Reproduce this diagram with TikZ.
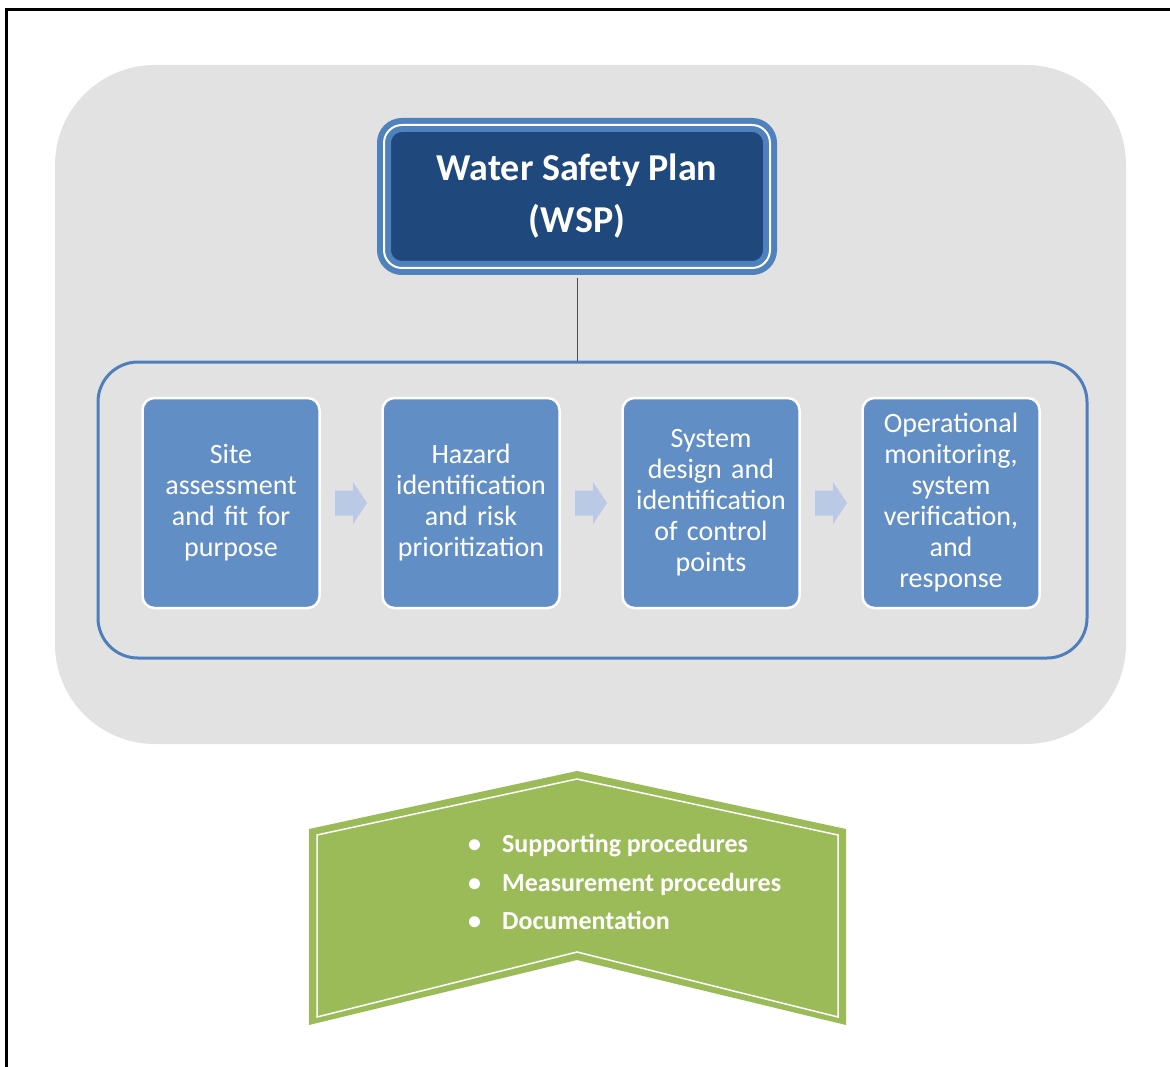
\documentclass[tikz,border=0pt]{standalone}
\usepackage{fontspec}
\setmainfont{Carlito}
\usepackage{tikz}
\usetikzlibrary{positioning, calc}

\definecolor{panelgray}{RGB}{226,226,226}
\definecolor{ringblue}{RGB}{79,129,189}
\definecolor{wspdark}{RGB}{31,73,125}
\definecolor{stepblue}{RGB}{98,142,198}
\definecolor{arrowblue}{RGB}{186,202,228}
\definecolor{groupblue}{RGB}{79,126,188}
\definecolor{leafgreen}{RGB}{155,187,89}

\tikzset{
  stepbox/.style={draw=white, line width=2.5pt, fill=stepblue, rounded corners=12pt,
    minimum width=177pt, minimum height=210pt, inner sep=4pt, outer sep=0pt, text width=166pt,
    align=center, text=white, font=\fontsize{28}{31}\selectfont},
  wspbox/.style={draw=ringblue, line width=6pt, double=white, double distance=2pt,
    fill=wspdark, rounded corners=18pt, minimum width=386pt, minimum height=143pt,
    align=center, text=white, font=\bfseries\fontsize{38}{52}\selectfont},
  groupbox/.style={draw=groupblue, line width=3pt, rounded corners=40pt,
    minimum width=989pt, minimum height=296pt},
  listtext/.style={anchor=west, inner sep=0pt, align=left, text=white,
    font=\bfseries\fontsize{26}{38.5}\selectfont}
}

\begin{document}
\begin{tikzpicture}[x=1pt, y=-1pt]
                \useasboundingbox (0,0) rectangle (1170,1067);
                % Frame
                \draw[line width=3pt] (6,1067) -- (6,10) -- (1170,10);

                % Gray panel
                \fill[panelgray, rounded corners=100pt] (55,65) rectangle (1126,744);

                % Steps of the plan
                \node[groupbox] (steps) at (592.5,510) {};
                \node[stepbox] (site) at (231,503) {Site\\assessment\\and fit for\\purpose};
                \node[stepbox, right=63pt of site] (hazard) {Hazard\\identification\\and risk\\prioritization};
                \node[stepbox, right=63pt of hazard] (design) {System\\design and\\identification\\of control\\points};
                \node[stepbox, right=63pt of design] (monitor) {Operational\\monitoring,\\system\\verification,\\and\\response};

                % Arrows between steps
                \foreach \a/\b in {site/hazard, hazard/design, design/monitor}{
                  \coordinate (m) at ($(\a.east)!0.5!(\b.west)$);
                  \fill[arrowblue] ($(m)+(-16,-12.5)$) -- ($(m)+(2,-12.5)$) -- ($(m)+(2,-21)$)
                    -- ($(m)+(16,0)$) -- ($(m)+(2,21)$) -- ($(m)+(2,12.5)$) -- ($(m)+(-16,12.5)$) -- cycle;
                }

                % Water safety plan
                \node[wspbox] (wsp) at (577,196.5) {Water Safety Plan\\(WSP)};
                \draw[black!70, line width=1pt, shorten <=7pt] (wsp.south) -- (wsp.south |- steps.north);

                % Supporting elements
                \fill[leafgreen] (309,829) -- (577,771) -- (846,829) -- (846,1025) -- (577,960) -- (309,1025) -- cycle;
                \draw[white, line width=1.5pt] (317,835) -- (577,779) -- (838,835) -- (838,1017) -- (577,952) -- (317,1017) -- cycle;
                \node[listtext] (support) at (468,882) {\makebox[34pt][l]{•}Supporting procedures\\
                  \makebox[34pt][l]{•}Measurement procedures\\
                  \makebox[34pt][l]{•}Documentation};
\end{tikzpicture}
\end{document}
